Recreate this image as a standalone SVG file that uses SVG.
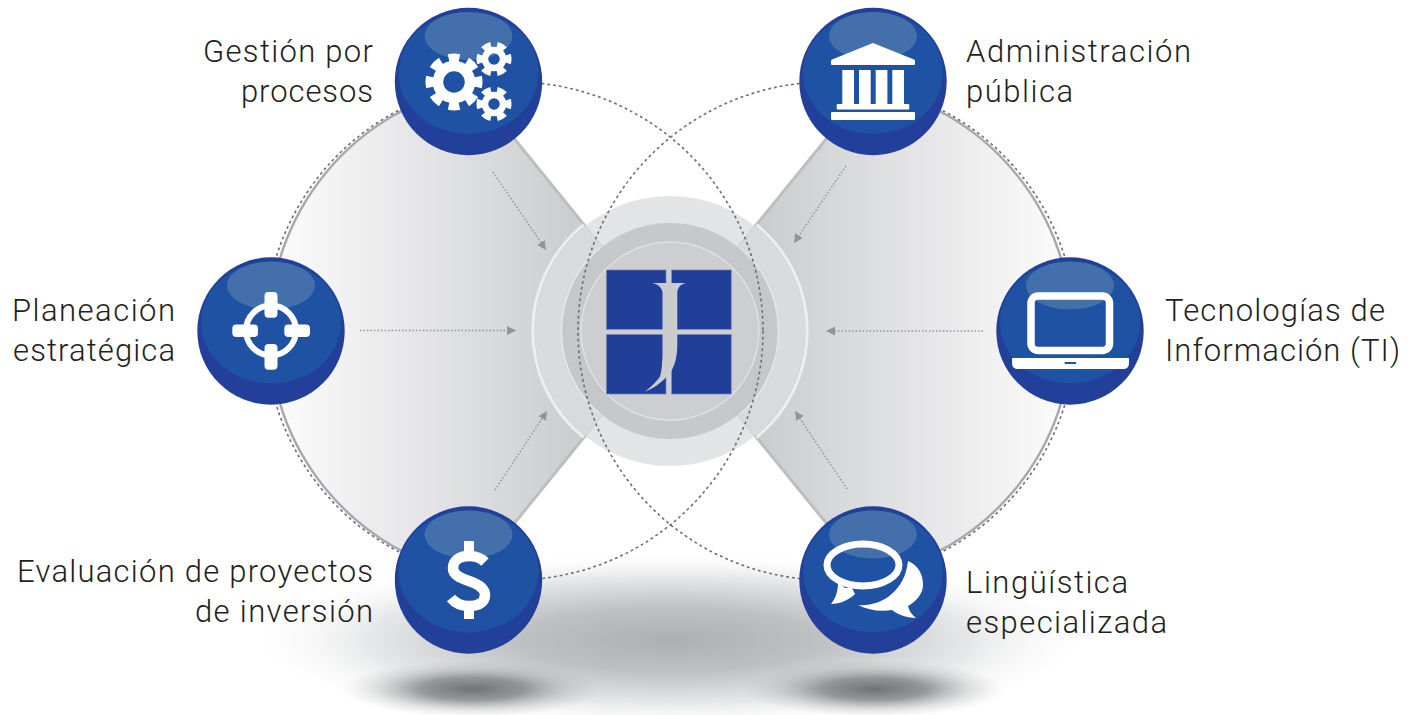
<svg xmlns="http://www.w3.org/2000/svg" xmlns:xlink="http://www.w3.org/1999/xlink" width="1417" height="715" viewBox="0 0 1417 715">
<style>
.lbl{font-family:"Roboto","Liberation Sans",sans-serif;font-weight:300;font-size:31px;fill:#231f20}
.end{text-anchor:end}
.ic{fill:#fff}
.icl{fill:none;stroke:#fff}
.wedge{stroke:none}
.edge{fill:none;stroke:#bcbec0;stroke-width:3}
.arc{fill:none;stroke:#a7a9ac;stroke-width:2.5}
.dot{fill:none;stroke:#6d6e71;stroke-width:1.6;stroke-dasharray:2.8 3}
.arr{fill:none;stroke:#939598;stroke-width:1.5;stroke-dasharray:1.5 2;marker-end:url(#ah)}
.sq{fill:#213f99;stroke:#7083bb;stroke-width:.6}
</style>
<defs>
<radialGradient id="sh1" cx="0.5" cy="0.5" r="0.5">
<stop offset="0" stop-color="#adafb1"/><stop offset="0.35" stop-color="#bfc0c2"/><stop offset="0.7" stop-color="#e6e7e8"/><stop offset="1" stop-color="#fff" stop-opacity="0"/>
</radialGradient>
<radialGradient id="sh2" cx="0.5" cy="0.5" r="0.5">
<stop offset="0" stop-color="#707274"/><stop offset="0.4" stop-color="#808284" stop-opacity=".8"/><stop offset="0.75" stop-color="#a5a7a9" stop-opacity=".3"/><stop offset="1" stop-color="#b5b6b8" stop-opacity="0"/>
</radialGradient>
<linearGradient id="gl" gradientUnits="userSpaceOnUse" x1="266" y1="0" x2="600" y2="0">
<stop offset="0" stop-color="#fdfdfd"/><stop offset=".2" stop-color="#f3f3f4"/><stop offset="1" stop-color="#c8c9cb"/>
</linearGradient>
<linearGradient id="gr" gradientUnits="userSpaceOnUse" x1="1075" y1="0" x2="741" y2="0">
<stop offset="0" stop-color="#fdfdfd"/><stop offset=".2" stop-color="#f3f3f4"/><stop offset="1" stop-color="#c8c9cb"/>
</linearGradient>
<marker id="ah" markerUnits="userSpaceOnUse" markerWidth="10" markerHeight="10" refX="9" refY="4.5" orient="auto">
<path d="M0 0L9 4.5L0 9Z" fill="#939598"/>
</marker>
<g id="ball">
<circle r="73.7" fill="#223f99"/>
<ellipse cx="0" cy="-8.5" rx="70" ry="61" fill="#1f52a3"/>
<ellipse cx="0" cy="-45.5" rx="44" ry="24" fill="#4370ab"/>
</g>
</defs>

<g id="background">
<ellipse cx="670" cy="640" rx="430" ry="90" fill="url(#sh1)"/>
<ellipse cx="472" cy="689" rx="130" ry="28" fill="url(#sh2)"/>
<ellipse cx="875" cy="689" rx="130" ry="28" fill="url(#sh2)"/>
<path class="wedge" fill="url(#gl)" d="M468.500 82L670 331L468.500 580V575A249 249 0 0 1 468.500 87Z"/>
<path class="wedge" fill="url(#gr)" d="M872.500 82L670 331L872.500 580V575A249 249 0 0 0 872.500 87Z"/>
<path class="edge" d="M468.500 82L670 331L468.500 580M872.500 82L670 331L872.500 580"/>
<path class="arc" d="M468.500 575A249 249 0 0 1 468.500 87M872.500 575A249 249 0 0 0 872.500 87"/>
</g>

<g id="hub">
<circle cx="670" cy="331" r="135" fill="#dcdde0" opacity=".8"/>
<path fill="none" stroke="#eeeeef" stroke-width="3" d="M583.600 224.600A137 137 0 0 0 583.600 437.400M756.400 224.600A137 137 0 0 1 756.400 437.400"/>
<circle cx="670" cy="331" r="108" fill="#c4c5c8" opacity=".92"/>
<path fill="none" stroke="#e4e5e7" stroke-width="1.500" d="M601 247A109 109 0 0 0 601 415M739 247A109 109 0 0 1 739 415"/>
<circle cx="670" cy="331" r="89" fill="#cdced0" stroke="#dfe0e1" stroke-width="1.500"/>
<rect class="sq" x="606.500" y="270" width="59.500" height="59.300"/>
<rect class="sq" x="671.700" y="270" width="59.500" height="59.300"/>
<rect class="sq" x="606.500" y="334.500" width="59.500" height="59.500"/>
<rect class="sq" x="671.700" y="334.500" width="59.500" height="59.500"/>
<path fill="#cbccce" d="M652 283H686C680.500 284 677.300 288 677.300 293V345C677.300 360 673 371 666.500 377C660 384 652 389 645 391.700C652 386 657 381 660 376.500C662 370 662.500 360 662.500 350V293C662.500 288 658 284 652 283Z"/>
</g>

<g id="connectors">
<circle class="dot" cx="514" cy="331" r="249"/>
<circle class="dot" cx="827" cy="331" r="249"/>
<path class="arr" d="M493 172L546 250"/>
<path class="arr" d="M360 330.500H516"/>
<path class="arr" d="M495 490L547 411"/>
<path class="arr" d="M846 166L794 243"/>
<path class="arr" d="M983 331H826"/>
<path class="arr" d="M847 489L795 411"/>
</g>

<g id="node-gestion">
<use xlink:href="#ball" href="#ball" x="468.500" y="81.500"/>
<circle class="icl" cx="454" cy="82" r="16" stroke-width="10.500"/>
<circle class="icl" cx="454" cy="82" r="24.500" stroke-width="8" pathLength="16" stroke-dasharray="1.150 .85" stroke-dashoffset=".575"/>
<circle class="icl" cx="494" cy="59" r="9" stroke-width="6.500"/>
<circle class="icl" cx="494" cy="59" r="14.500" stroke-width="6" pathLength="12" stroke-dasharray="1.150 .85" stroke-dashoffset=".575"/>
<circle class="icl" cx="494" cy="104" r="9" stroke-width="6.500"/>
<circle class="icl" cx="494" cy="104" r="14.500" stroke-width="6" pathLength="12" stroke-dasharray="1.150 .85" stroke-dashoffset=".575"/>
<text class="lbl end" x="373" y="62" textLength="170" lengthAdjust="spacing">Gestión por</text>
<text class="lbl end" x="373" y="102" textLength="132" lengthAdjust="spacing">procesos</text>
</g>

<g id="node-admin">
<use xlink:href="#ball" href="#ball" x="873" y="81.500"/>
<path class="ic" d="M873 43L832 59.500Q831 60 831 61V64Q831 65 832 65H914Q915 65 915 64V61Q915 60 914 59.500Z"/>
<rect class="ic" x="842.300" y="70" width="11.700" height="34"/>
<rect class="ic" x="859" y="70" width="11.700" height="34"/>
<rect class="ic" x="875.700" y="70" width="11.700" height="34"/>
<rect class="ic" x="892.300" y="70" width="11.700" height="34"/>
<rect class="ic" x="836.700" y="104" width="72.600" height="5.500" rx="1"/>
<rect class="ic" x="831" y="112" width="84" height="8" rx="1"/>
<text class="lbl" x="966" y="62" textLength="225" lengthAdjust="spacing">Administración</text>
<text class="lbl" x="966" y="102" textLength="107" lengthAdjust="spacing">pública</text>
</g>

<g id="node-planeacion">
<use xlink:href="#ball" href="#ball" x="271" y="331"/>
<circle class="icl" cx="271" cy="330.500" r="25" stroke-width="6"/>
<rect class="ic" x="264.500" y="292" width="13" height="25.700" rx="4"/>
<rect class="ic" x="264.500" y="344" width="13" height="25.700" rx="4"/>
<rect class="ic" x="232.300" y="324.500" width="25.700" height="12.500" rx="4"/>
<rect class="ic" x="284.300" y="324.500" width="25.700" height="12.500" rx="4"/>
<text class="lbl end" x="175" y="321" textLength="163" lengthAdjust="spacing">Planeación</text>
<text class="lbl end" x="175" y="361" textLength="162" lengthAdjust="spacing">estratégica</text>
</g>

<g id="node-ti">
<use xlink:href="#ball" href="#ball" x="1070" y="331"/>
<rect class="icl" x="1031" y="296" width="78.500" height="54.500" rx="7" stroke-width="7.500"/>
<path class="ic" d="M1012 358H1129V363Q1129 369 1123 369H1018Q1012 369 1012 363Z"/>
<rect x="1064.700" y="362" width="11.300" height="2" fill="#1f52a3"/>
<text class="lbl" x="1165" y="321" textLength="220" lengthAdjust="spacing">Tecnologías de</text>
<text class="lbl" x="1165" y="361" textLength="235" lengthAdjust="spacing">Información (TI)</text>
</g>

<g id="node-evaluacion">
<use xlink:href="#ball" href="#ball" x="468.500" y="580"/>
<rect class="ic" x="464" y="541" width="10" height="11"/>
<rect class="ic" x="464" y="608" width="10" height="11"/>
<path class="icl" stroke-width="10.500" stroke-linejoin="round" d="M485 562C481 558 476 556 469 556C459 556 453 561 453 568C453 575 460 578 469 581C478 584 485 588 485 595C485 602 479 606 469 606C461 606 455 603 451 598"/>
<text class="lbl end" x="373" y="582" textLength="356" lengthAdjust="spacing">Evaluación de proyectos</text>
<text class="lbl end" x="373" y="622" textLength="178" lengthAdjust="spacing">de inversión</text>
</g>

<g id="node-linguistica">
<use xlink:href="#ball" href="#ball" x="873" y="580"/>
<ellipse class="icl" cx="863" cy="565" rx="36" ry="21" stroke-width="7"/>
<path class="ic" d="M838 582C838 593 835 599 831 604C840 604 849 600 855 594L852 588L845 588Z"/>
<path class="ic" d="M908 561C918 565 923 574 923 585C923 593 917 601 908 606C909 611 912 615 916 618C906 618 897 614 892 610C880 612 868 610 858 605C880 607 905 592 908 561Z"/>
<text class="lbl" x="966" y="593" textLength="162" lengthAdjust="spacing">Lingüística</text>
<text class="lbl" x="966" y="633" textLength="201" lengthAdjust="spacing">especializada</text>
</g>
</svg>
